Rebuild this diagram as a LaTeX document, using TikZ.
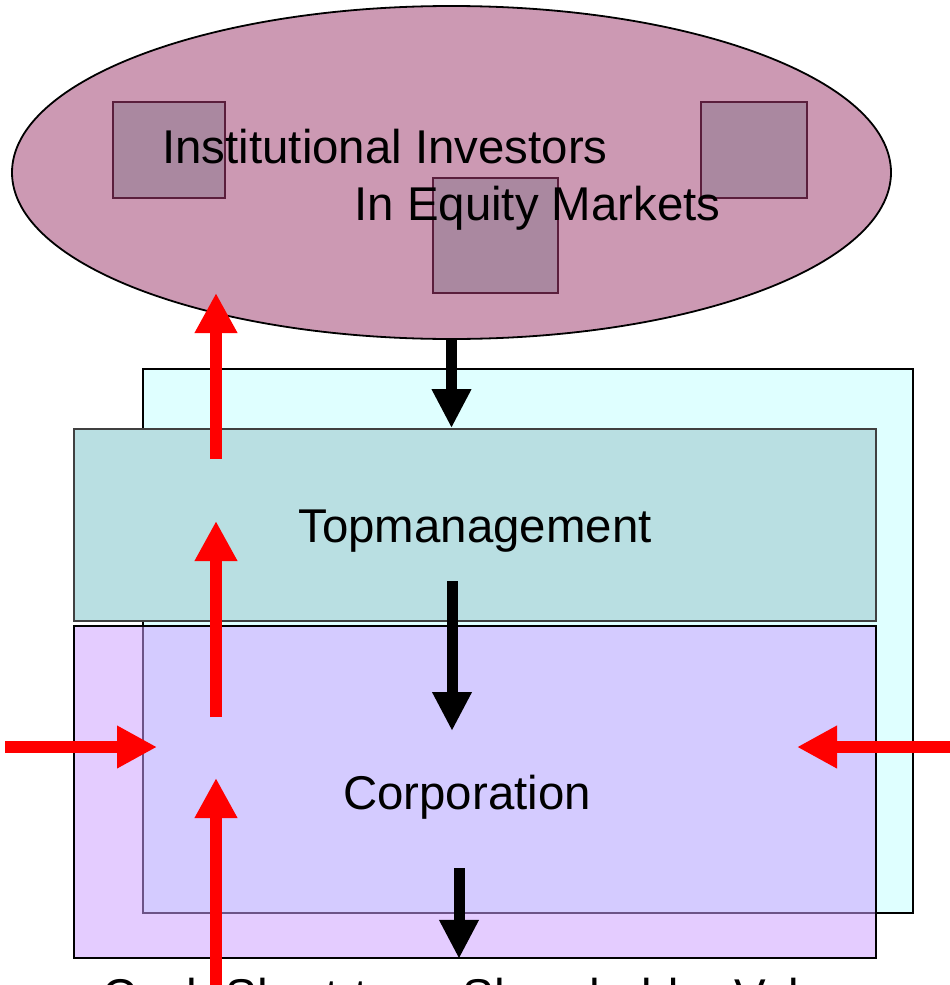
\documentclass[tikz,border=0pt]{standalone}
\usepackage{fontspec}
\setmainfont{Liberation Sans}
\usepackage{tikz}
\usetikzlibrary{shapes.geometric,arrows.meta}
\definecolor{marketcol}{RGB}{204,153,179}
\definecolor{sqcol}{RGB}{170,136,160}
\definecolor{sqline}{RGB}{90,30,60}
\definecolor{backcol}{RGB}{223,255,255}
\definecolor{topcol}{RGB}{185,223,226}
\definecolor{corpcol}{RGB}{204,158,255}

\begin{document}
\begin{tikzpicture}[x=0.5pt,y=-0.5pt, every node/.style={font=\fontsize{23.7pt}{28pt}\selectfont, inner sep=0pt},
		box/.style={rectangle, draw, line width=0.9pt},
		sq/.style={rectangle, draw=sqline, line width=0.9pt, fill=sqcol},
		redarrow/.style={red, line width=6pt, -{Triangle[length=20pt,width=20pt]}},
		blackarrow/.style={black, line width=5.5pt, -{Triangle[length=19.5pt,width=18.5pt]}}]
			\useasboundingbox (0,0) rectangle (949,985);
			\node[ellipse, draw, line width=0.9pt, fill=marketcol, minimum width=439.5pt, minimum height=166.5pt] at (451.5,172.5) (market){};
			\node[sq, minimum width=56pt, minimum height=48pt] at (169,150) (sqa){};
			\node[sq, minimum width=53pt, minimum height=48pt] at (754,150) (sqb){};
			\node[sq, minimum width=62.5pt, minimum height=57.5pt] at (495.5,235.5) (sqc){};
			\node[anchor=base west] at (162,163) (inst){Institutional Investors};
			\node[anchor=base west] at (354,220) (equity){In Equity Markets};
			\node[box, fill=backcol, minimum width=385pt, minimum height=272pt] at (528,641) (back){};
			\node[box, draw=black!75, fill=topcol, minimum width=401pt, minimum height=96pt] at (475,525) (top){};
			\node[box, fill=corpcol, fill opacity=0.53, minimum width=401pt, minimum height=166pt] at (475,792) (corp){};
			\node[anchor=base] at (475,542) (toptext){Topmanagement};
			\node[anchor=base] at (467,809) (corptext){Corporation};
			\node[anchor=base] at (477,1012) (cash){Cash Short-term Shareholder Value};
			\coordinate (r1a) at (216,459);
			\coordinate (r1b) at (216,293);
			\coordinate (r2a) at (216,717);
			\coordinate (r2b) at (216,521);
			\coordinate (r3a) at (216,995);
			\coordinate (r3b) at (216,778);
			\coordinate (r4a) at (5,747);
			\coordinate (r4b) at (157,747);
			\coordinate (r5a) at (960,747);
			\coordinate (r5b) at (797,747);
			\coordinate (b2a) at (452,581);
			\coordinate (b2b) at (452,731);
			\coordinate (b3a) at (459,868);
			\draw[blackarrow] (market.south) -- (market.south |- top.north);
			\draw[blackarrow] (b2a) -- (b2b);
			\draw[blackarrow] (b3a) -- (b3a |- corp.south);
			\draw[redarrow] (r1a) -- (r1b);
			\draw[redarrow] (r2a) -- (r2b);
			\draw[redarrow] (r3a) -- (r3b);
			\draw[redarrow] (r4a) -- (r4b);
			\draw[redarrow] (r5a) -- (r5b);
		\end{tikzpicture}
\end{document}
